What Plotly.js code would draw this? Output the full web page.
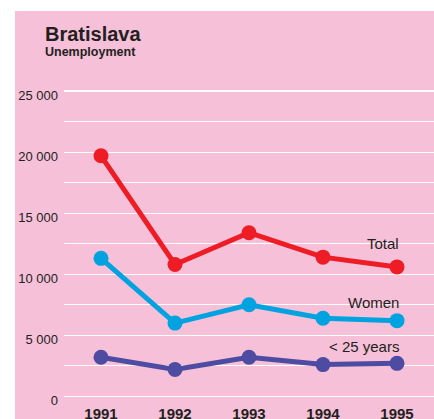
<!DOCTYPE html>
<html>
<head>
<meta charset="utf-8">
<script src="https://cdn.plot.ly/plotly-3.0.1.min.js"></script>
<style>
html,body{margin:0;padding:0;background:#ffffff;width:434px;height:419px;overflow:hidden;}
#chart{position:absolute;left:15px;top:11px;width:419px;height:408px;}
</style>
</head>
<body>
<div id="chart"></div>
<script>
// ---- data ----
const years = [1991, 1992, 1993, 1994, 1995];
const yearLabels = ["1991", "1992", "1993", "1994", "1995"];
const total = [19700, 10800, 13400, 11400, 10600];
const women = [11300, 6000, 7500, 6400, 6200];
const under25 = [3200, 2200, 3200, 2600, 2700];
const seriesNames = ["Total", "Women", "< 25 years"];
const yTickVals = [0, 2500, 5000, 7500, 10000, 12500, 15000, 17500, 20000, 22500, 25000];
const yTickText = ["0", "", "5 000", "", "10 000", "", "15 000", "", "20 000", "", "25 000"];
const titleText = "Bratislava";
const subtitleText = "Unemployment";

// ---- styling ----
const pink = "#F5C0D8";
const ink = "#231F20";
const colors = ["#EE1C25", "#00A3E0", "#4E4BA2"];
const font = "Liberation Sans, Arial, Helvetica, sans-serif";

const series = [total, women, under25];
const traces = series.map((vals, i) => ({
  x: years,
  y: vals,
  type: "scatter",
  mode: "lines+markers",
  name: seriesNames[i],
  line: {color: colors[i], width: 5},
  marker: {color: colors[i], size: 15},
  hoverinfo: "skip"
}));

const labelY = [12550, 7650, 4050];
const annotations = seriesNames.map((n, i) => ({
  text: n,
  x: years[years.length - 1],
  xref: "x",
  y: labelY[i],
  yref: "y",
  xanchor: "right",
  yanchor: "middle",
  xshift: 4,
  showarrow: false,
  font: {family: font, size: 15, color: ink}
}));
annotations.push({
  text: subtitleText,
  xref: "paper", yref: "paper",
  x: -0.0514, y: 1.105,
  xanchor: "left", yanchor: "middle",
  xshift: -2,
  showarrow: false,
  font: {family: font, size: 12.5, color: ink, weight: "bold"}
});

const layout = {
  width: 419,
  height: 408,
  margin: {l: 49, r: 0, t: 74, b: 19, pad: 0},
  paper_bgcolor: pink,
  plot_bgcolor: pink,
  showlegend: false,
  hovermode: false,
  title: {
    text: titleText,
    xref: "container", yref: "container",
    x: 0.0716, y: 0.9436,
    xanchor: "left", yanchor: "middle",
    font: {family: font, size: 20, color: ink, weight: "bold"}
  },
  xaxis: {
    range: [1990.5, 1995.5],
    tickmode: "array",
    tickvals: years,
    ticktext: yearLabels,
    showgrid: false,
    zeroline: false,
    showline: false,
    ticks: "",
    ticklabelstandoff: 3,
    tickfont: {family: font, size: 15, color: ink, weight: "bold"},
    fixedrange: true
  },
  yaxis: {
    range: [-300, 25500],
    tickmode: "array",
    tickvals: yTickVals,
    ticktext: yTickText,
    showgrid: true,
    gridcolor: "#ffffff",
    gridwidth: 1.3,
    zeroline: false,
    showline: false,
    ticks: "",
    ticklabelshift: 4,
    ticklabelstandoff: 5,
    tickfont: {family: font, size: 13, color: ink},
    fixedrange: true
  },
  annotations: annotations
};

Plotly.newPlot("chart", traces, layout, {displayModeBar: false, staticPlot: true});
</script>
</body>
</html>
